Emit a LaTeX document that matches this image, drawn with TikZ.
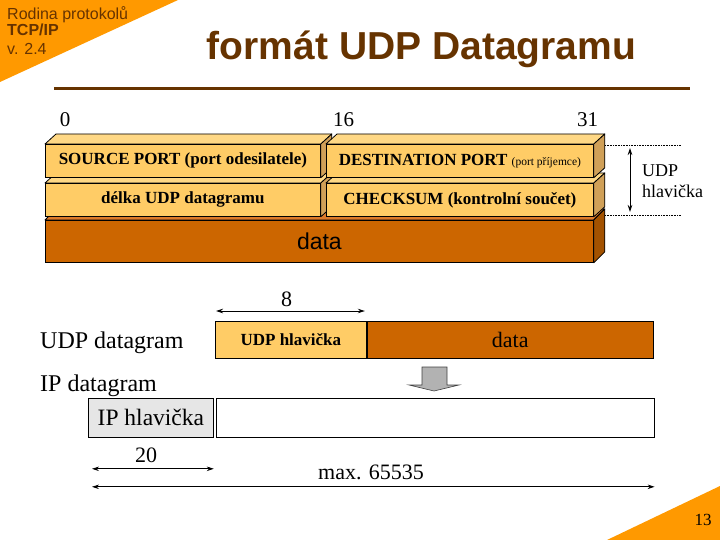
\documentclass[tikz,border=0pt]{standalone}
\usepackage{fontspec}
\setmainfont{Liberation Serif}
\setsansfont{Liberation Sans}
\usetikzlibrary{arrows.meta,calc}

\definecolor{orng}{HTML}{FF9900}
\definecolor{brwn}{HTML}{663300}
\definecolor{hdrfront}{HTML}{FFCC66}
\definecolor{hdrtop}{HTML}{FFD885}
\definecolor{hdrside}{HTML}{D0A058}
\definecolor{datafront}{HTML}{CC6600}
\definecolor{datatop}{HTML}{DD7A2A}
\definecolor{dataside}{HTML}{A35200}
\definecolor{iphdrc}{HTML}{E6E6E6}
\definecolor{arrgray}{HTML}{B2B2B2}
\newcommand{\fsz}[1]{\fontsize{#1}{#1}\selectfont}

\begin{document}
\begin{tikzpicture}[x=1pt,y=-1pt,
  face/.style={draw=black,line width=0.8pt,inner sep=0,anchor=north west},
  hdr/.style={face,fill=hdrfront,minimum height=33pt,font=\bfseries\fsz{17}},
  top/.style={draw=black,line width=0.8pt,line join=round},
  dim/.style={{Stealth[length=7pt,width=4.5pt]}-{Stealth[length=7pt,width=4.5pt]},line width=0.8pt},
  lbl/.style={anchor=base,font=\fsz{22}}]
\useasboundingbox (0,0) rectangle (720,540);

%% slide corners
\fill[orng] (0,0) -- (178,0) -- (0,82) -- cycle;
\fill[orng] (720,486) -- (720,540) -- (607,540) -- cycle;
\node[anchor=base west,font=\sffamily\fsz{16},text=brwn,inner sep=0] (fam) at (7,20) {Rodina protokolů};
\node[anchor=base west,font=\sffamily\bfseries\fsz{16},text=brwn,inner sep=0] (tcp) at (7,36) {TCP/IP};
\node[anchor=base west,font=\sffamily\fsz{16},text=brwn,inner sep=0] (ver) at (7,55) {v. 2.4};
\node[anchor=base,font=\fsz{17},inner sep=0] (page) at (703,525) {13};

%% title
\node[anchor=base,font=\sffamily\bfseries\fsz{39},text=brwn,inner sep=0] (title) at (421.5,60) {formát UDP Datagramu};
\draw[brwn,line width=3pt] (54,89) -- (690,89);

%% bit numbers
\foreach \v/\x in {0/65,16/343.5,31/587.5}
  \node[anchor=base,font=\fsz{21},inner sep=0] (bit\v) at (\x,127) {\v};

%% 3D boxes, bottom one first
\node[face,fill=datafront,minimum width=548pt,minimum height=42pt,font=\sffamily\fsz{23}] (data) at (45,220) {data};
\fill[datatop,top] (data.north west) -- ++(11,-11) -- ($(data.north east)+(11,-11)$) -- (data.north east) -- cycle;
\fill[dataside,top] (data.north east) -- ++(11,-11) -- ($(data.south east)+(11,-11)$) -- (data.south east) -- cycle;
\foreach \n/\x/\y/\w/\t in {len/45/183/275/{délka UDP datagramu},
    sum/326/183/267/{CHECKSUM (kontrolní součet)},
    src/45/144/275/{SOURCE PORT (port odesilatele)},
    dst/326/144/267/{DESTINATION PORT {\mdseries\fsz{11.5}(port příjemce)}}}{
  \node[hdr,minimum width=\w pt] (\n) at (\x,\y) {\t};
  \fill[hdrtop,top] (\n.north west) -- ++(11,-10) -- ($(\n.north east)+(11,-10)$) -- (\n.north east) -- cycle;
  \fill[hdrside,top] (\n.north east) -- ++(11,-10) -- ($(\n.south east)+(11,-10)$) -- (\n.south east) -- cycle;
}

%% header height mark
\coordinate (d1) at (605,145);
\coordinate (d2) at (681,145);
\coordinate (d3) at (605,215);
\coordinate (d4) at (681,215);
\draw[densely dotted,line width=0.6pt] (d1) -- (d2);
\draw[densely dotted,line width=0.6pt] (d3) -- (d4);
\coordinate (h1) at (630,148);
\coordinate (h2) at (630,212);
\draw[dim] (h1) -- (h2);
\node[anchor=base west,font=\fsz{18},inner sep=0] (udpa) at (642,177) {UDP};
\node[anchor=base west,font=\fsz{18},inner sep=0] (udpb) at (642,197) {hlavička};

%% UDP datagram
\node[anchor=base west,font=\fsz{24},inner sep=0] (udpl) at (40,348) {UDP datagram};
\node[face,fill=hdrfront,minimum width=151pt,minimum height=37pt,font=\bfseries\fsz{17}] (uhdr) at (215,321) {UDP hlavička};
\node[face,fill=datafront,minimum width=286pt,minimum height=37pt,font=\fsz{22}] (udata) at (uhdr.north east) {data};
\draw[dim] ($(uhdr.north west)+(1,-10)$) -- ($(uhdr.north east)+(-2,-10)$);
\node[lbl,inner sep=0] (eight) at (286.5,306) {8};

%% encapsulation
\draw[fill=arrgray,draw=black!75,line width=0.6pt] (422,367) -- (447,367) -- (447,385) -- (459,385) -- (434,391) -- (409,385) -- (422,385) -- cycle;

%% IP datagram
\node[anchor=base west,font=\fsz{24},inner sep=0] (ipl) at (40,391) {IP datagram};
\node[face,fill=iphdrc,minimum width=125pt,minimum height=39pt,font=\fsz{23.5}] (iphdr) at (88,398) {IP hlavička};
\node[face,fill=white,minimum width=438pt,minimum height=39pt] (ipdata) at ($(iphdr.north east)+(2,0)$) {};
\draw[dim] ($(iphdr.south west)+(4,31)$) -- ($(iphdr.south east)+(0,31)$);
\node[lbl,inner sep=0] (twenty) at (146,462) {20};
\draw[dim] ($(iphdr.south west)+(4,49)$) -- ($(ipdata.south east)+(0,49)$);
\node[lbl,inner sep=0] (maxl) at (371,479) {max. 65535};
\end{tikzpicture}
\end{document}
